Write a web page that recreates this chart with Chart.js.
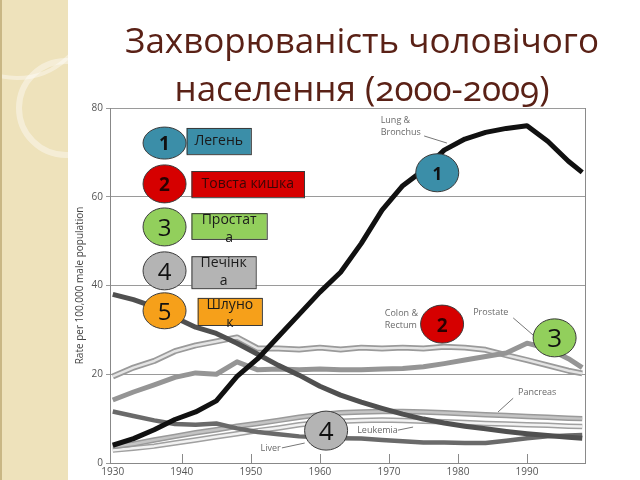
<!DOCTYPE html>
<html>
<head>
<meta charset="utf-8">
<script src="https://cdn.jsdelivr.net/npm/chart.js@4"></script>
<style>
  body { margin: 0; }
  #slide { position: relative; width: 640px; height: 480px; overflow: hidden; background: #fff; }
  #strip { position: absolute; left: 0; top: 0; width: 68px; height: 480px; background: #eee2bb; border-left: 2px solid #c9b785; box-sizing: border-box; overflow: hidden; }
  .ring { position: absolute; border-radius: 50%; border: 6px solid rgba(255,255,255,0.4); box-sizing: border-box; }
  #chart { position: absolute; left: 0; top: 0; }
  #title { position: absolute; left: 62px; width: 600px; top: 16px; text-align: center; font-family: 'Open Sans', sans-serif; font-size: 35px; line-height: 48px; color: #5a2116; font-variant-numeric: oldstyle-nums; }
</style>
</head>
<body>
<div id="slide">
  <div id="strip">
    <div class="ring" style="left:14px;top:58px;width:100px;height:100px;"></div>
    <div class="ring" style="left:-60px;top:-70px;width:150px;height:150px;border-width:4px;"></div>
  </div>
  <canvas id="chart" width="640" height="480"></canvas>
  <div id="title">Захворюваність чоловічого<br>населення (2000-2009)</div>
</div>
<script>
const years = [1930, 1933, 1936, 1939, 1942, 1945, 1948, 1951, 1954, 1957, 1960, 1963,
  1966, 1969, 1972, 1975, 1978, 1981, 1984, 1987, 1990, 1993, 1996, 1998];
const lung = [4.0, 5.5, 7.5, 9.8, 11.5, 14, 19.5, 23.5, 28.5, 33.5, 38.5, 43,
  49.5, 57, 62.5, 66, 70.5, 73, 74.5, 75.4, 76, 72.5, 68, 65.5];
const stomach = [38, 36.8, 35.2, 32.8, 30.6, 29.2, 27, 24.5, 22, 19.8, 17.3, 15.3,
  13.7, 12.3, 11, 9.9, 9, 8.3, 7.7, 7.1, 6.6, 6.2, 5.8, 5.6];
const colon = [19.5, 21.5, 23, 25.2, 26.5, 27.4, 28.3, 25.8, 25.8, 25.6, 26, 25.6,
  26, 25.8, 26, 25.8, 26.2, 26, 25.5, 24.3, 23.2, 22, 20.8, 20.2];
const prostate = [14.2, 16, 17.6, 19.3, 20.3, 20, 22.8, 21, 21.2, 21, 21.2, 21,
  21, 21.2, 21.3, 21.7, 22.4, 23.2, 24, 24.8, 27, 25.8, 23.5, 21.5];
const liver = [11.6, 10.6, 9.6, 8.8, 8.6, 8.9, 7.8, 7, 6.5, 6, 5.8, 5.6,
  5.5, 5.2, 4.9, 4.6, 4.6, 4.5, 4.5, 5, 5.6, 6, 6.2, 6.3];
const pancreas = [3.7, 4.3, 5.2, 6, 6.8, 7.5, 8.3, 8.9, 9.6, 10.3, 10.9, 11.3,
  11.5, 11.6, 11.6, 11.5, 11.3, 11.1, 10.9, 10.7, 10.5, 10.3, 10.1, 10.0];
const leukemia = [2.9, 3.3, 3.8, 4.5, 5.2, 5.9, 6.6, 7.3, 7.9, 8.6, 9.1, 9.4,
  9.6, 9.7, 9.6, 9.4, 9.3, 9.1, 8.9, 8.8, 8.6, 8.5, 8.3, 8.2];
const xTicks = [1930, 1940, 1950, 1960, 1970, 1980, 1990];
const yTitle = 'Rate per 100,000 male population';

// site names printed on the original graph: [text lines, year, rate, leader line]
const siteLabels = [
  { lines: ['Lung &', 'Bronchus'], x: 1968.8, y: 77.1, lead: [1975.1, 73.7, 1978.4, 72.1] },
  { lines: ['Colon &', 'Rectum'], x: 1969.4, y: 33.8 },
  { lines: ['Prostate'], x: 1982.2, y: 34.0, lead: [1988.0, 32.7, 1990.9, 28.8] },
  { lines: ['Pancreas'], x: 1988.7, y: 15.8, lead: [1988.0, 14.6, 1985.8, 11.5] },
  { lines: ['Leukemia'], x: 1965.4, y: 7.4, lead: [1971.3, 7.4, 1973.5, 8.1] },
  { lines: ['Liver'], x: 1951.4, y: 3.2, lead: [1954.5, 3.4, 1957.8, 4.5] }
];

// numbered markers and their captions
const markers = [
  { n: '1', x: 1937.5, y: 72.1, ry: 16, fill: '#3b8ea8', numColor: '#111', bold: true, size: 19 },
  { n: '2', x: 1937.5, y: 62.9, ry: 19, fill: '#d60000', numColor: '#2a0000', bold: true, size: 19 },
  { n: '3', x: 1937.5, y: 53.2, ry: 19, fill: '#92cf5c', numColor: '#111', bold: false, size: 24 },
  { n: '4', x: 1937.5, y: 43.3, ry: 19, fill: '#b4b4b4', numColor: '#111', bold: false, size: 24 },
  { n: '5', x: 1937.5, y: 34.3, ry: 18, fill: '#f6a01a', numColor: '#111', bold: false, size: 24 },
  { n: '1', x: 1977.0, y: 65.4, ry: 19, fill: '#3b8ea8', numColor: '#111', bold: true, size: 17 },
  { n: '2', x: 1977.7, y: 31.3, ry: 19, fill: '#d60000', numColor: '#2a0000', bold: true, size: 19 },
  { n: '3', x: 1994.0, y: 28.2, ry: 19, fill: '#92cf5c', numColor: '#111', bold: false, size: 26 },
  { n: '4', x: 1960.9, y: 7.3, ry: 19.5, fill: '#b4b4b4', numColor: '#111', bold: false, size: 26 }
];
const captions = [
  { lines: ['Легень'], x1: 1940.7, x2: 1950.0, y1: 75.5, y2: 69.6, fill: '#3b8ea8', color: '#1a1a1a' },
  { lines: ['Товста кишка'], x1: 1941.4, x2: 1957.7, y1: 65.8, y2: 59.9, fill: '#d60000', color: '#3a0606' },
  { lines: ['Простат', 'а'], x1: 1941.4, x2: 1952.3, y1: 56.3, y2: 50.5, fill: '#92cf5c', color: '#1a1a1a' },
  { lines: ['Печінк', 'а'], x1: 1941.4, x2: 1950.7, y1: 46.6, y2: 39.4, fill: '#b4b4b4', color: '#1a1a1a' },
  { lines: ['Шлуно', 'к'], x1: 1942.3, x2: 1951.6, y1: 37.2, y2: 31.1, fill: '#f6a01a', color: '#1a1a1a' }
];

function pts(arr) {
  return years.map((yr, i) => ({ x: yr, y: arr[i] }));
}

const annotate = {
  id: 'annotate',
  afterDraw(chart) {
    const { ctx, chartArea } = chart;
    const X = v => chart.scales.x.getPixelForValue(v);
    const Y = v => chart.scales.y.getPixelForValue(v);
    ctx.save();

    // right frame line and inward year ticks
    ctx.strokeStyle = '#8a8a8a';
    ctx.lineWidth = 1;
    ctx.beginPath();
    ctx.moveTo(Math.round(chartArea.right) + 0.5, chartArea.top);
    ctx.lineTo(Math.round(chartArea.right) + 0.5, chartArea.bottom);
    xTicks.slice(1).forEach(t => {
      const px = Math.round(X(t)) + 0.5;
      ctx.moveTo(px, chartArea.bottom);
      ctx.lineTo(px, chartArea.bottom - 9);
    });
    ctx.stroke();

    // site names
    ctx.font = '9px "Open Sans"';
    ctx.fillStyle = '#6a6a6a';
    ctx.textBaseline = 'middle';
    ctx.textAlign = 'left';
    siteLabels.forEach(l => {
      l.lines.forEach((t, i) => ctx.fillText(t, X(l.x), Y(l.y) + i * 12));
      if (l.lead) {
        ctx.strokeStyle = '#777';
        ctx.beginPath();
        ctx.moveTo(X(l.lead[0]), Y(l.lead[1]));
        ctx.lineTo(X(l.lead[2]), Y(l.lead[3]));
        ctx.stroke();
      }
    });

    // captions
    captions.forEach(c => {
      const x1 = X(c.x1), x2 = X(c.x2), y1 = Y(c.y1), y2 = Y(c.y2);
      ctx.fillStyle = c.fill;
      ctx.fillRect(x1, y1, x2 - x1, y2 - y1);
      ctx.strokeStyle = '#3a3a3a';
      ctx.lineWidth = 1;
      ctx.strokeRect(x1 + 0.5, y1 + 0.5, x2 - x1, y2 - y1);
      ctx.fillStyle = c.color;
      ctx.font = '14px "Open Sans"';
      ctx.textAlign = 'center';
      const cx = (x1 + x2) / 2;
      if (c.lines.length === 1) {
        ctx.fillText(c.lines[0], cx, (y1 + y2) / 2);
      } else {
        c.lines.forEach((t, i) => ctx.fillText(t, cx, y1 + 7 + i * 18));
      }
    });

    // numbered ellipses
    markers.forEach(m => {
      ctx.beginPath();
      ctx.ellipse(X(m.x), Y(m.y), 21.5, m.ry, 0, 0, Math.PI * 2);
      ctx.fillStyle = m.fill;
      ctx.fill();
      ctx.strokeStyle = '#3a3a3a';
      ctx.lineWidth = 1;
      ctx.stroke();
      ctx.fillStyle = m.numColor;
      ctx.font = (m.bold ? 'bold ' : '') + m.size + 'px "Open Sans"';
      ctx.textAlign = 'center';
      ctx.fillText(m.n, X(m.x), Y(m.y) + 2);
    });

    ctx.restore();
  }
};

Chart.defaults.font.family = 'Open Sans';

new Chart(document.getElementById('chart'), {
  type: 'line',
  data: {
    datasets: [
      { data: pts(lung), borderColor: '#111111', borderWidth: 5, order: 0 },
      { data: pts(stomach), borderColor: '#505050', borderWidth: 5, order: 1 },
      { data: pts(prostate), borderColor: '#959595', borderWidth: 5, order: 2 },
      { data: pts(colon), borderColor: '#e4e4e4', borderWidth: 2.5, order: 3 },
      { data: pts(colon), borderColor: '#9a9a9a', borderWidth: 6, order: 4 },
      { data: pts(liver), borderColor: '#6a6a6a', borderWidth: 4.5, order: 5 },
      { data: pts(pancreas), borderColor: '#c4c4c4', borderWidth: 2.5, order: 6 },
      { data: pts(pancreas), borderColor: '#9a9a9a', borderWidth: 5.5, order: 7 },
      { data: pts(leukemia), borderColor: '#f2f2f2', borderWidth: 2.5, order: 8 },
      { data: pts(leukemia), borderColor: '#a0a0a0', borderWidth: 5.5, order: 9 }
    ]
  },
  options: {
    responsive: false,
    animation: false,
    layout: { padding: { left: 68, top: 108, right: 55, bottom: 0 } },
    elements: {
      point: { radius: 0 },
      line: { tension: 0, borderJoinStyle: 'round', borderCapStyle: 'butt' }
    },
    plugins: {
      legend: { display: false },
      tooltip: { enabled: false }
    },
    scales: {
      x: {
        type: 'linear',
        min: 1929.6,
        max: 1998.4,
        afterBuildTicks: s => { s.ticks = xTicks.map(v => ({ value: v })); },
        afterFit: s => { s.height = 17; },
        grid: { display: false, drawTicks: false },
        border: { display: true, color: '#888888' },
        ticks: {
          color: '#555555',
          font: { size: 10 },
          padding: 3,
          maxRotation: 0,
          autoSkip: false,
          callback: v => String(v)
        }
      },
      y: {
        min: 0,
        max: 80,
        afterFit: s => { s.width = 42; },
        ticks: { stepSize: 20, color: '#555555', font: { size: 10 }, padding: 3 },
        grid: { color: '#9a9a9a', tickLength: 4 },
        border: { color: '#888888' },
        title: {
          display: true,
          text: yTitle,
          color: '#444444',
          font: { size: 10 },
          padding: { top: 6, bottom: 0 }
        }
      }
    }
  },
  plugins: [annotate]
});
</script>
</body>
</html>
